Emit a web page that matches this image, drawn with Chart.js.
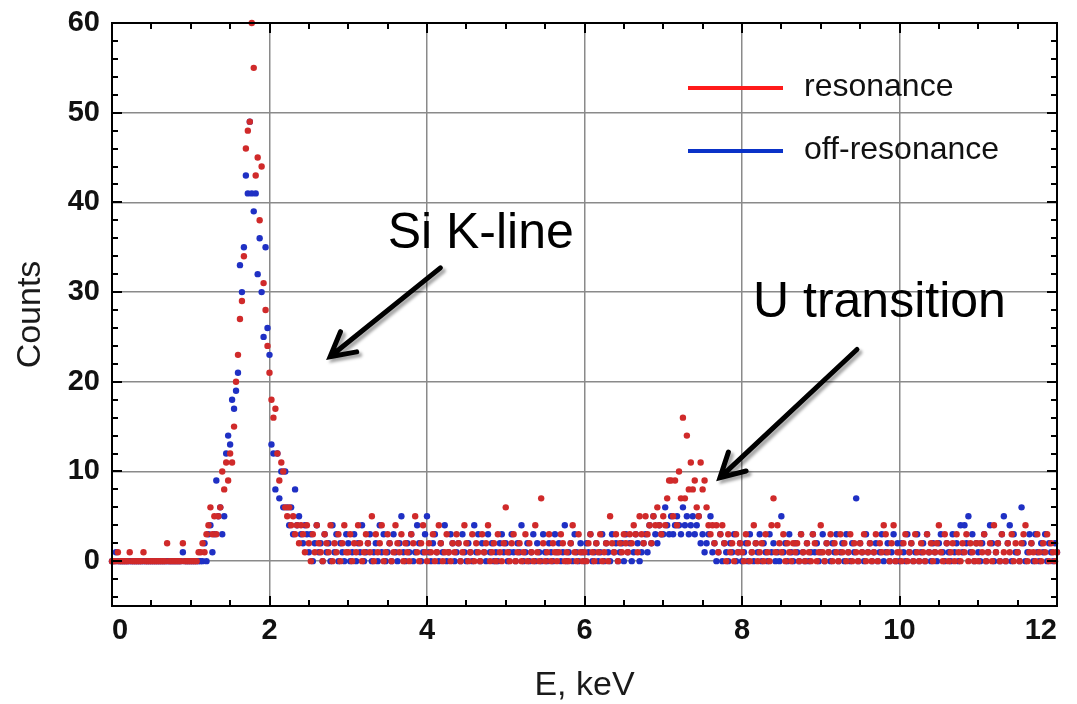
<!DOCTYPE html>
<html>
<head>
<meta charset="utf-8">
<script src="https://cdn.jsdelivr.net/npm/chart.js@4.4.1/dist/chart.umd.min.js"></script>
<style>
  html, body { margin: 0; padding: 0; background: #fff; }
  canvas { display: block; }
</style>
</head>
<body>
<canvas id="spectrum" width="1077" height="704"></canvas>
<script>
// channel width of the spectra (keV per channel), channel 0 = 0 keV
const channelKeV = 0.025;

const xTickValues = [0, 2, 4, 6, 8, 10, 12];
const yTickValues = [0, 10, 20, 30, 40, 50, 60];
const xMinorStep = 0.5;
const yMinorStep = 2;

const seriesLabels = ['resonance', 'off-resonance'];

// counts per channel, one line per keV
const resonance = [
  0,0,0,1,0,0,0,0,0,1, 0,0,0,0,0,0,1,0,0,0, 0,0,0,0,0,0,0,0,2,0, 0,0,0,0,0,0,2,0,0,0,
  0,0,0,0,1,1,2,1,3,4, 6,3,5,3,5,6,10,8,11,9, 12,11,15,20,23,27,29,34,46,48, 49,60,55,43,45,38,44,31,28,24,
  21,18,16,17,12,9,11,10,6,5, 6,4,5,3,4,2,4,3,1,4, 2,0,3,1,4,2,1,0,3,2, 1,4,0,2,1,3,0,2,4,1,
  1,3,0,2,1,4,2,0,1,3, 2,1,5,0,3,1,2,4,0,1, 3,2,0,1,4,2,1,3,0,2, 1,0,3,2,5,1,0,2,4,1,
  0,2,1,3,0,1,4,2,0,1, 3,1,0,2,1,3,2,0,1,4, 2,0,1,3,0,2,1,0,3,1, 2,4,0,1,2,0,3,1,0,2,
  6,1,0,2,3,0,1,2,0,1, 3,0,2,1,0,4,1,0,7,2, 0,1,3,0,2,1,0,1,3,2, 0,1,0,2,4,1,0,3,1,0,
  1,0,2,3,1,0,2,1,3,0, 1,2,0,5,2,1,3,0,2,1, 3,2,1,3,2,4,3,1,5,3, 2,5,3,4,2,5,4,6,4,3,
  5,4,7,9,9,5,9,4,10,7, 16,7,14,8,11,8,9,6,5,11, 8,9,6,4,3,4,2,4,1,3, 4,2,0,3,1,2,0,3,1,2,
  1,0,3,2,0,1,4,2,0,1, 2,0,3,1,0,4,7,1,4,2, 1,3,0,2,1,0,2,1,2,0, 3,1,0,2,1,0,3,2,0,1,
  4,1,0,2,1,3,0,2,1,0, 3,1,2,0,1,3,0,2,1,0, 2,1,3,0,1,2,0,1,3,0, 2,1,4,3,1,0,2,4,0,1,
  1,0,2,3,0,1,2,0,3,1, 0,2,1,0,3,1,2,0,1,2, 4,1,0,3,2,0,1,2,0,3, 1,0,2,1,3,0,2,1,0,2,
  0,2,1,3,0,1,2,0,4,1, 2,0,3,1,0,2,1,3,0,2, 1,0,2,3,4,0,1,2,1,0, 3,1,0,2,1,3,0,2,1,0,
  1
];

const offResonance = [
  0,0,1,0,0,0,0,0,0,0, 0,0,0,0,0,0,0,0,0,0, 0,0,0,0,0,0,0,0,0,0, 0,0,0,0,0,0,1,0,0,0,
  0,0,0,0,0,0,0,2,0,3, 4,1,3,9,5,6,3,5,12,14, 13,18,17,19,21,33,30,35,43,41, 49,41,39,41,32,36,30,25,35,26,
  23,13,12,8,12,7,10,6,10,6, 4,6,3,8,4,5,3,2,4,3, 1,3,0,2,4,1,2,0,3,1, 2,0,4,1,3,0,2,1,0,3,
  2,0,1,3,0,2,1,4,0,1, 2,3,0,1,2,0,4,1,3,0, 1,2,0,3,1,0,2,5,1,0, 2,1,3,0,1,4,2,0,1,3,
  5,1,0,2,3,1,0,2,1,4, 0,1,3,2,0,1,2,0,3,1, 0,2,1,0,4,1,3,0,2,1, 0,3,1,2,0,1,0,2,3,1,
  2,0,1,3,1,0,2,1,4,0, 1,2,0,1,3,0,2,1,0,3, 1,0,2,1,0,3,1,2,0,1, 4,0,1,2,0,3,1,0,2,1,
  0,2,1,3,0,1,2,0,1,3, 0,2,1,0,3,1,2,0,1,2, 0,3,1,2,0,1,3,2,0,1, 2,3,1,4,2,5,3,2,4,3,
  3,6,4,3,5,3,4,5,4,3, 6,4,5,3,4,5,3,4,5,2, 3,1,2,3,5,1,2,0,1,3, 0,2,1,0,2,1,3,0,1,2,
  0,1,2,0,3,1,0,2,1,3, 0,2,1,0,3,1,2,0,1,0, 5,1,2,0,3,1,0,2,1,0, 3,1,0,2,0,1,3,1,2,0,
  1,3,0,2,1,0,2,1,3,0, 1,2,0,3,1,0,2,1,7,0, 2,1,0,3,1,2,0,1,2,0, 1,3,0,1,2,0,1,3,0,2,
  0,2,1,0,3,1,2,0,1,3, 0,1,2,0,3,1,0,2,1,0, 2,3,1,0,2,1,0,3,1,2, 0,4,1,4,2,5,1,3,0,2,
  1,0,2,3,0,1,4,2,0,1, 2,0,3,5,0,2,4,0,3,1, 1,0,6,2,0,1,3,2,0,3, 1,0,2,1,3,0,2,1,0,2,
  1
];

const pointColors = ['#d02a2a', '#1f30c4'];
const legendColors = ['#ff1a1a', '#0a32c8'];

// text notes with arrows, placed in data units (keV, counts)
const notes = [
  { text: 'Si K-line', at: [3.50, 34.9], from: [4.17, 32.7], to: [2.77, 22.8] },
  { text: 'U transition', at: [8.14, 27.2], from: [9.46, 23.6], to: [7.72, 9.3] }
];

const FONT = "'Liberation Sans', Arial, sans-serif";

function toPoints(counts) {
  return counts.map((c, i) => ({ x: i * channelKeV, y: c }));
}

function drawArrow(ctx, x0, y0, x1, y1) {
  const ang = Math.atan2(y1 - y0, x1 - x0);
  const head = 27, spread = 0.5;
  ctx.beginPath();
  ctx.moveTo(x0, y0);
  ctx.lineTo(x1 - Math.cos(ang) * 3, y1 - Math.sin(ang) * 3);
  ctx.moveTo(x1 - head * Math.cos(ang - spread), y1 - head * Math.sin(ang - spread));
  ctx.lineTo(x1, y1);
  ctx.lineTo(x1 - head * Math.cos(ang + spread), y1 - head * Math.sin(ang + spread));
  ctx.stroke();
}

const framePlugin = {
  id: 'framePlugin',
  afterDraw(chart) {
    const { ctx, chartArea: a } = chart;
    const xs = chart.scales.x, ys = chart.scales.y;
    ctx.save();

    // inward ticks on all four sides
    ctx.strokeStyle = '#000';
    ctx.lineWidth = 2;
    ctx.beginPath();
    for (let v = xs.min; v <= xs.max + 1e-6; v += xMinorStep) {
      const px = Math.round(xs.getPixelForValue(v));
      const len = xTickValues.includes(Math.round(v * 100) / 100) ? 10 : 6;
      ctx.moveTo(px, a.bottom); ctx.lineTo(px, a.bottom - len);
      ctx.moveTo(px, a.top); ctx.lineTo(px, a.top + len);
    }
    for (let v = Math.ceil(ys.min / yMinorStep) * yMinorStep; v <= ys.max; v += yMinorStep) {
      const py = Math.round(ys.getPixelForValue(v));
      const len = yTickValues.includes(v) ? 10 : 6;
      ctx.moveTo(a.left, py); ctx.lineTo(a.left + len, py);
      ctx.moveTo(a.right, py); ctx.lineTo(a.right - len, py);
    }
    ctx.stroke();
    ctx.strokeRect(a.left, a.top, a.right - a.left, a.bottom - a.top);

    // legend
    ctx.font = '32px ' + FONT;
    ctx.textBaseline = 'alphabetic';
    ctx.textAlign = 'left';
    chart.data.datasets.forEach((ds, i) => {
      const ly = a.top + 65 + i * 63;
      const lx = a.right - 369;
      ctx.strokeStyle = legendColors[i];
      ctx.lineWidth = 4;
      ctx.beginPath();
      ctx.moveTo(lx, ly); ctx.lineTo(lx + 95, ly);
      ctx.stroke();
      ctx.fillStyle = '#111';
      ctx.fillText(ds.label, lx + 116, ly + 8);
    });

    // notes and arrows
    ctx.font = '50px ' + FONT;
    ctx.fillStyle = '#000';
    notes.forEach(n => {
      ctx.fillText(n.text, xs.getPixelForValue(n.at[0]), ys.getPixelForValue(n.at[1]));
    });
    ctx.strokeStyle = '#000';
    ctx.lineWidth = 5;
    ctx.lineCap = 'round';
    ctx.lineJoin = 'miter';
    ctx.shadowColor = 'rgba(0,0,0,0.35)';
    ctx.shadowOffsetX = 3;
    ctx.shadowOffsetY = 3;
    ctx.shadowBlur = 3;
    notes.forEach(n => {
      drawArrow(ctx,
        xs.getPixelForValue(n.from[0]), ys.getPixelForValue(n.from[1]),
        xs.getPixelForValue(n.to[0]), ys.getPixelForValue(n.to[1]));
    });
    ctx.restore();
  }
};

const gridStyle = { color: '#8a8a8a', lineWidth: 1.5, drawTicks: false };

new Chart(document.getElementById('spectrum'), {
  type: 'scatter',
  data: {
    datasets: [
      { label: seriesLabels[0], data: toPoints(resonance), backgroundColor: pointColors[0], order: 0 },
      { label: seriesLabels[1], data: toPoints(offResonance), backgroundColor: pointColors[1], order: 1 }
    ]
  },
  options: {
    responsive: false,
    animation: false,
    devicePixelRatio: 1,
    clip: false,
    layout: { padding: { left: 0, right: 20, top: 23, bottom: 0 } },
    elements: { point: { radius: 3.2, borderWidth: 0, hoverRadius: 3.2 } },
    plugins: { legend: { display: false }, tooltip: { enabled: false } },
    scales: {
      x: {
        type: 'linear',
        min: 0,
        max: 12,
        afterBuildTicks: s => { s.ticks = xTickValues.map(value => ({ value })); },
        afterFit: s => { s.height = 98; s.paddingLeft = 0; s.paddingRight = 0; },
        grid: gridStyle,
        border: { display: false },
        ticks: { color: '#111', font: { family: FONT, size: 29, weight: 'bold' }, padding: 8, align: 'inner', maxRotation: 0, autoSkip: false },
        title: { display: true, text: 'E, keV', color: '#1a1a1a', font: { family: FONT, size: 34, lineHeight: 1 }, padding: { top: 0, bottom: 1 } }
      },
      y: {
        min: -5,
        max: 60,
        afterBuildTicks: s => { s.ticks = yTickValues.map(value => ({ value })); },
        afterFit: s => { s.width = 112; s.paddingTop = 0; s.paddingBottom = 0; },
        grid: gridStyle,
        border: { display: false },
        ticks: { color: '#111', font: { family: FONT, size: 29, weight: 'bold' }, padding: 12, autoSkip: false },
        title: { display: true, text: 'Counts', color: '#1a1a1a', font: { family: FONT, size: 34, lineHeight: 1 }, padding: { top: 14, bottom: 0 } }
      }
    }
  },
  plugins: [framePlugin]
});
</script>
</body>
</html>
